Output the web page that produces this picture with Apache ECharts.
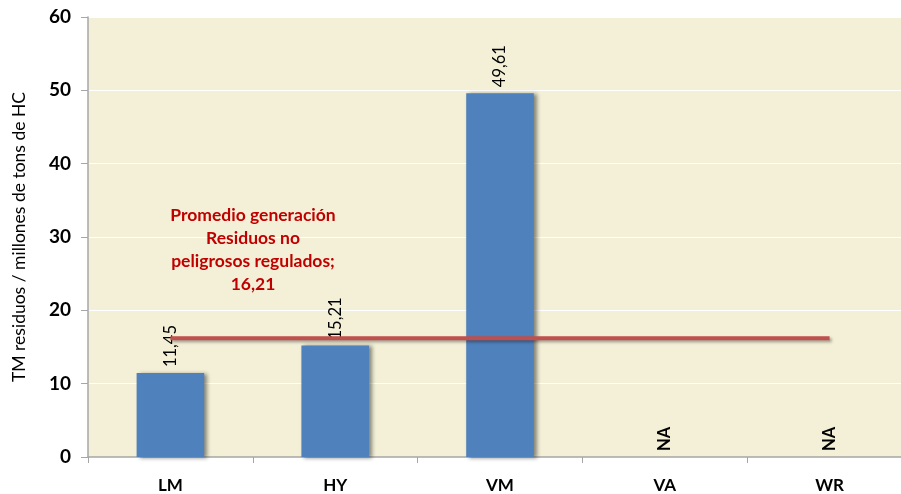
<!DOCTYPE html>
<html>
<head>
<meta charset="utf-8">
<script src="https://cdn.jsdelivr.net/npm/echarts@6/dist/echarts.min.js"></script>
<style>
  html, body { margin: 0; padding: 0; background: #ffffff; overflow: hidden; }
  /* the plot runs past the right edge of the window */
  #chart { width: 912px; height: 494px; }
</style>
</head>
<body>
<div id="chart"></div>
<script>
// Categories and values
const categories = ['LM', 'HY', 'VM', 'VA', 'WR'];
const residuos = [11.45, 15.21, 49.61, 0, 0];
const residuosLabels = ['11,45', '15,21', '49,61', 'NA', 'NA'];
const promedio = 16.21;
const promedioLabel = '16,21';
const yTicks = { min: 0, max: 60, interval: 10 };

const font = 'Lato, "Open Sans", sans-serif';

const chart = echarts.init(document.getElementById('chart'), null, { renderer: 'canvas' });

const option = {
  animation: false,
  grid: {
    left: 88,
    top: 17,
    right: 0,
    height: 442,
    show: true,
    backgroundColor: '#F3F0D7',
    borderWidth: 0
  },
  xAxis: {
    type: 'category',
    data: categories,
    boundaryGap: true,
    axisLine: { lineStyle: { color: '#A6A6A6', width: 1.5 } },
    axisTick: { show: true, alignWithLabel: false, length: 6, lineStyle: { color: '#A6A6A6' } },
    axisLabel: {
      color: '#000', fontFamily: font, fontWeight: 'bold', fontSize: 17, margin: 20
    }
  },
  yAxis: {
    type: 'value',
    min: yTicks.min,
    max: yTicks.max,
    interval: yTicks.interval,
    name: 'TM residuos / millones de tons de HC',
    nameLocation: 'middle',
    nameGap: 60,
    nameTextStyle: { color: '#000', fontFamily: font, fontSize: 17.5 },
    axisLine: { show: true, lineStyle: { color: '#A6A6A6', width: 1.5 } },
    axisTick: { show: true, length: 7, lineStyle: { color: '#A6A6A6' } },
    axisLabel: {
      color: '#000', fontFamily: font, fontWeight: 'bold', fontSize: 19, margin: 17
    },
    splitLine: { show: true, lineStyle: { color: '#FFFFFF', width: 1.2 } }
  },
  series: [
    {
      type: 'bar',
      data: residuos,
      barWidth: '41%',
      itemStyle: {
        color: '#4F81BD',
        shadowColor: 'rgba(0,0,0,0.45)',
        shadowBlur: 4,
        shadowOffsetX: 3,
        shadowOffsetY: 1
      },
      label: {
        show: true,
        position: 'top',
        rotate: 90,
        align: 'left',
        verticalAlign: 'middle',
        distance: 6,
        color: '#000',
        fontFamily: font,
        fontSize: 16.5,
        formatter: p => residuosLabels[p.dataIndex] === 'NA'
          ? '{na|NA}' : residuosLabels[p.dataIndex],
        rich: { na: { fontWeight: 'bold', fontSize: 16.5, fontFamily: font, color: '#000' } }
      },
      z: 2
    },
    {
      type: 'line',
      data: categories.map(() => promedio),
      symbol: 'none',
      lineStyle: {
        color: '#C0504D',
        width: 4,
        shadowColor: 'rgba(0,0,0,0.35)',
        shadowBlur: 3,
        shadowOffsetX: 2,
        shadowOffsetY: 2
      },
      z: 3
    }
  ],
  graphic: [
    {
      type: 'text',
      z: 100,
      x: 253,
      y: 204,
      style: {
        text: 'Promedio generación\nResiduos no\npeligrosos regulados;\n' + promedioLabel,
        align: 'center',
        fill: '#C00000',
        font: 'bold 17.5px ' + font,
        lineHeight: 23
      }
    }
  ]
};

chart.setOption(option);
</script>
</body>
</html>
